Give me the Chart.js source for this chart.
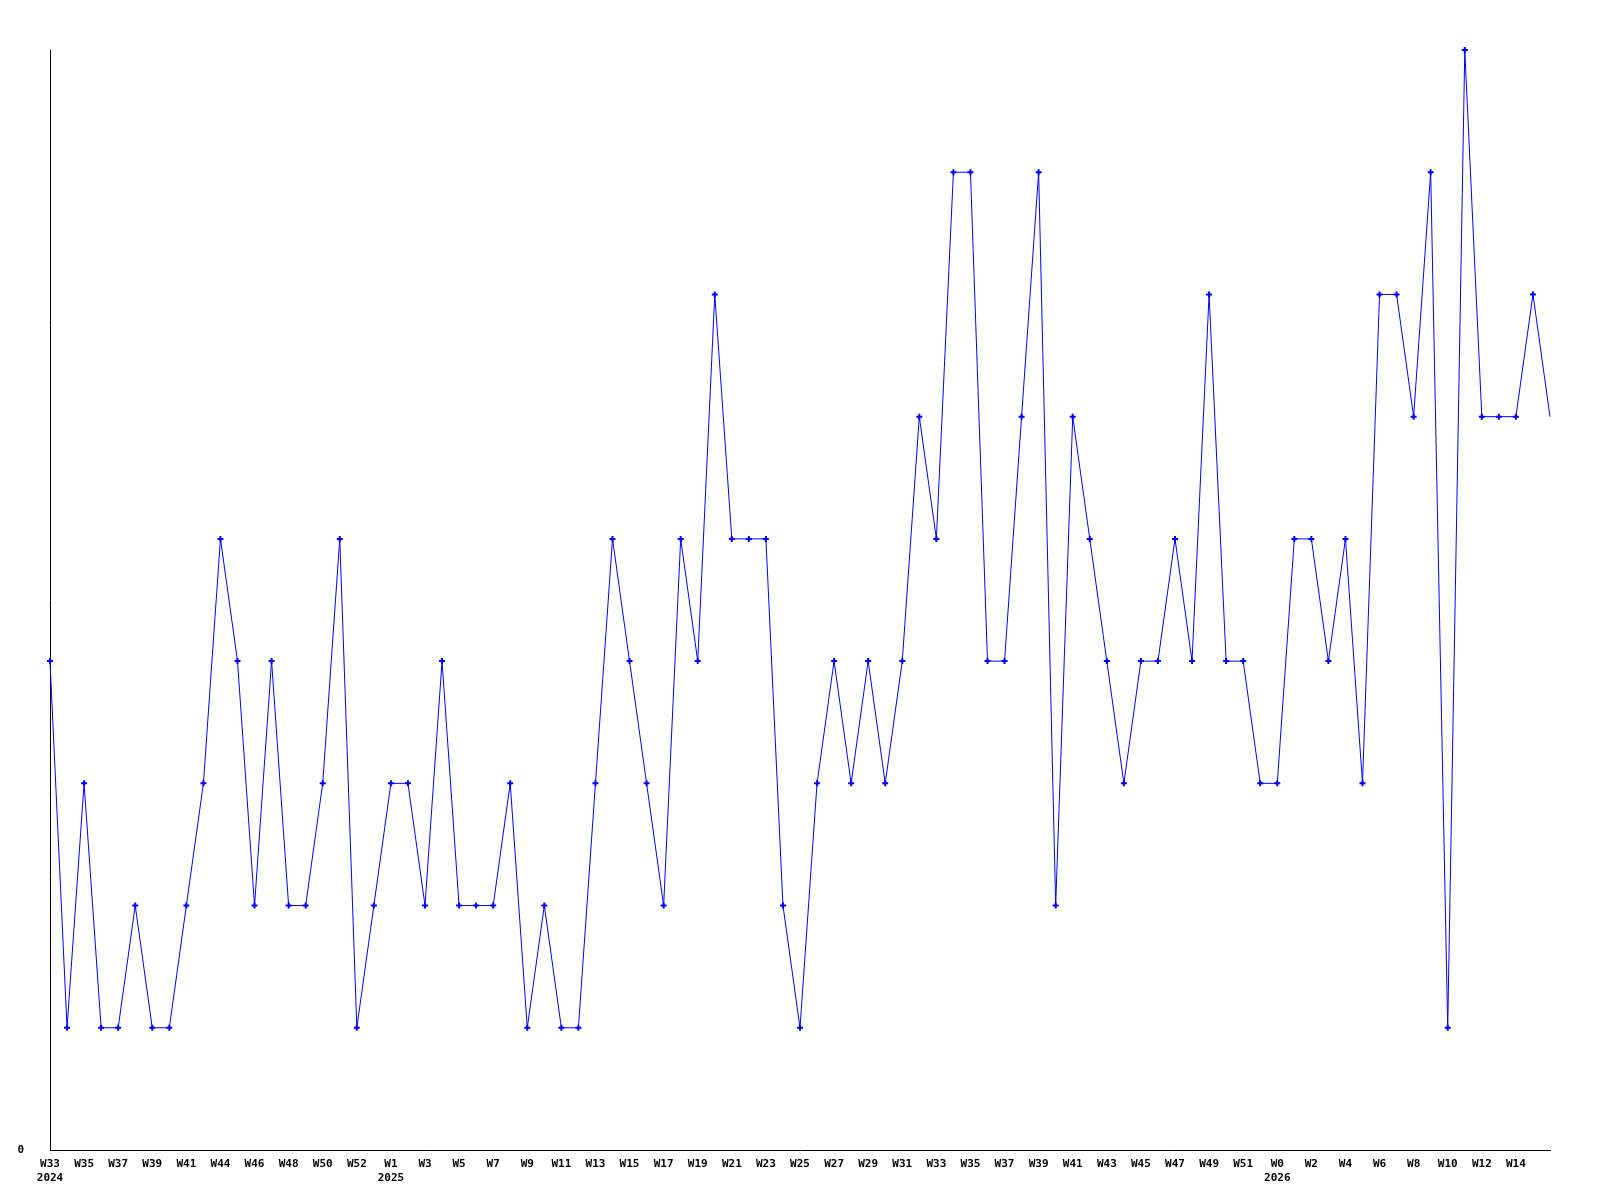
<!DOCTYPE html>
<html>
<head>
<meta charset="utf-8">
<script src="https://cdn.jsdelivr.net/npm/chart.js@4"></script>
<style>
  html, body { margin: 0; padding: 0; background: #fff; }
  #wrap { width: 1600px; height: 1200px; }
</style>
</head>
<body>
<div id="wrap"><canvas id="weekChart" width="1600" height="1200"></canvas></div>
<script>
// week labels, one per point (only every 2nd is shown on the axis)
const weeks = [
    'W33', 'W34', 'W35', 'W36', 'W37', 'W38', 'W39', 'W40', 'W41', 'W42',
    'W44', 'W45', 'W46', 'W47', 'W48', 'W49', 'W50', 'W51', 'W52', 'W0',
    'W1', 'W2', 'W3', 'W4', 'W5', 'W6', 'W7', 'W8', 'W9', 'W10',
    'W11', 'W12', 'W13', 'W14', 'W15', 'W16', 'W17', 'W18', 'W19', 'W20',
    'W21', 'W22', 'W23', 'W24', 'W25', 'W26', 'W27', 'W28', 'W29', 'W30',
    'W31', 'W32', 'W33', 'W34', 'W35', 'W36', 'W37', 'W38', 'W39', 'W40',
    'W41', 'W42', 'W43', 'W44', 'W45', 'W46', 'W47', 'W48', 'W49', 'W50',
    'W51', 'W52', 'W0', 'W1', 'W2', 'W3', 'W4', 'W5', 'W6', 'W7',
    'W8', 'W9', 'W10', 'W11', 'W12', 'W13', 'W14', 'W15', 'W16'
];

// year shown under the first labelled week of each year: [index, year]
const yearMarks = [[0, '2024'], [20, '2025'], [72, '2026']];

const counts = [
    4, 1, 3, 1, 1, 2, 1, 1, 2, 3,
    5, 4, 2, 4, 2, 2, 3, 5, 1, 2,
    3, 3, 2, 4, 2, 2, 2, 3, 1, 2,
    1, 1, 3, 5, 4, 3, 2, 5, 4, 7,
    5, 5, 5, 2, 1, 3, 4, 3, 4, 3,
    4, 6, 5, 8, 8, 4, 4, 6, 8, 2,
    6, 5, 4, 3, 4, 4, 5, 4, 7, 4,
    4, 3, 3, 5, 5, 4, 5, 3, 7, 7,
    6, 8, 1, 9, 6, 6, 6, 7, 6
];

const yMax = 9;

const tickFont = { family: 'DejaVu Sans Mono', size: 11, weight: 'bold' };

const ctx = document.getElementById('weekChart').getContext('2d');
const weekChart = new Chart(ctx, {
    type: 'line',
    data: {
        labels: weeks,
        datasets: [{
            data: counts,
            clip: false,
            borderColor: '#0000ff',
            borderWidth: 1,
            tension: 0,
            fill: false,
            pointStyle: 'cross',
            pointRadius: function(c) { return c.dataIndex === counts.length - 1 ? 0 : 3; },
            pointBorderWidth: 2,
            pointBorderColor: '#0000ff',
            pointBackgroundColor: '#0000ff'
        }]
    },
    options: {
        responsive: false,
        animation: false,
        layout: { padding: { top: 50, right: 50, left: 0, bottom: 0 } },
        plugins: {
            legend: { display: false },
            tooltip: { enabled: false }
        },
        scales: {
            x: {
                offset: false,
                grid: { display: false },
                border: { display: true, color: '#000', width: 1 },
                ticks: {
                    autoSkip: false,
                    maxRotation: 0,
                    minRotation: 0,
                    padding: 0,
                    color: '#000',
                    font: tickFont,
                    callback: function(value, index) {
                        // the last (partial) week has no label
                        if (index % 2 !== 0 || index === weeks.length - 1) return '';
                        const year = yearMarks.find(function(m) { return m[0] === index; });
                        return year ? [weeks[index], year[1]] : weeks[index];
                    }
                },
                afterFit: function(scale) { scale.height = 50; }
            },
            y: {
                min: 0,
                max: yMax,
                grid: { display: false },
                border: { display: true, color: '#000', width: 1 },
                ticks: {
                    stepSize: 1,
                    padding: 18,
                    color: '#000',
                    font: tickFont,
                    callback: function(value) { return value === 0 ? '0' : ''; }
                },
                afterFit: function(scale) { scale.width = 50; }
            }
        }
    }
});
</script>
</body>
</html>
